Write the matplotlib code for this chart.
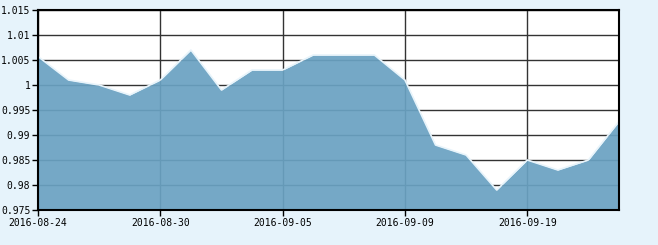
import matplotlib.pyplot as plt
import numpy as np

# trading days and values
dates = ["2016-08-24", "2016-08-25", "2016-08-26", "2016-08-29", "2016-08-30",
         "2016-08-31", "2016-09-01", "2016-09-02", "2016-09-05", "2016-09-06",
         "2016-09-07", "2016-09-08", "2016-09-09", "2016-09-12", "2016-09-13",
         "2016-09-14", "2016-09-19", "2016-09-20", "2016-09-21", "2016-09-22"]
values = [1.0057, 1.001, 1.000, 0.998, 1.001,
          1.007, 0.999, 1.003, 1.003, 1.006,
          1.006, 1.006, 1.001, 0.988, 0.986,
          0.979, 0.985, 0.983, 0.985, 0.9927]
label_dates = ["2016-08-24", "2016-08-30", "2016-09-05", "2016-09-09", "2016-09-19"]
yticks = [0.975, 0.98, 0.985, 0.99, 0.995, 1.0, 1.005, 1.01, 1.015]
ylabels = ["0.975", "0.98", "0.985", "0.99", "0.995", "1", "1.005", "1.01", "1.015"]

x = np.arange(len(dates))
bg = "#e6f3fb"

fig = plt.figure(figsize=(6.58, 2.45), dpi=100, facecolor=bg)
ax = fig.add_axes([38 / 658, 1 - 210 / 245, 581 / 658, 200 / 245])
ax.set_facecolor("white")

xt = [dates.index(d) for d in label_dates]
ax.set_xticks(xt)
ax.set_xticklabels(label_dates)
ax.set_yticks(yticks)
ax.set_yticklabels(ylabels)
ax.grid(True, color="#333333", linewidth=1)
ax.set_axisbelow(True)

ax.fill_between(x, values, 0.975, color="#6aa2c2", alpha=0.93, zorder=2, linewidth=0)
ax.plot(x, values, color="#e8f4fb", linewidth=1.2, zorder=3)

ax.set_xlim(0, len(dates) - 1)
ax.set_ylim(0.975, 1.015)
for s in ax.spines.values():
    s.set_color("black")
    s.set_linewidth(1.5)
    s.set_zorder(4)
ax.tick_params(length=4, width=1, labelsize=7, pad=1.5, colors="black")
for lbl in ax.get_xticklabels() + ax.get_yticklabels():
    lbl.set_family("DejaVu Sans Mono")

fig.savefig("out.png", dpi=100, facecolor=bg)
